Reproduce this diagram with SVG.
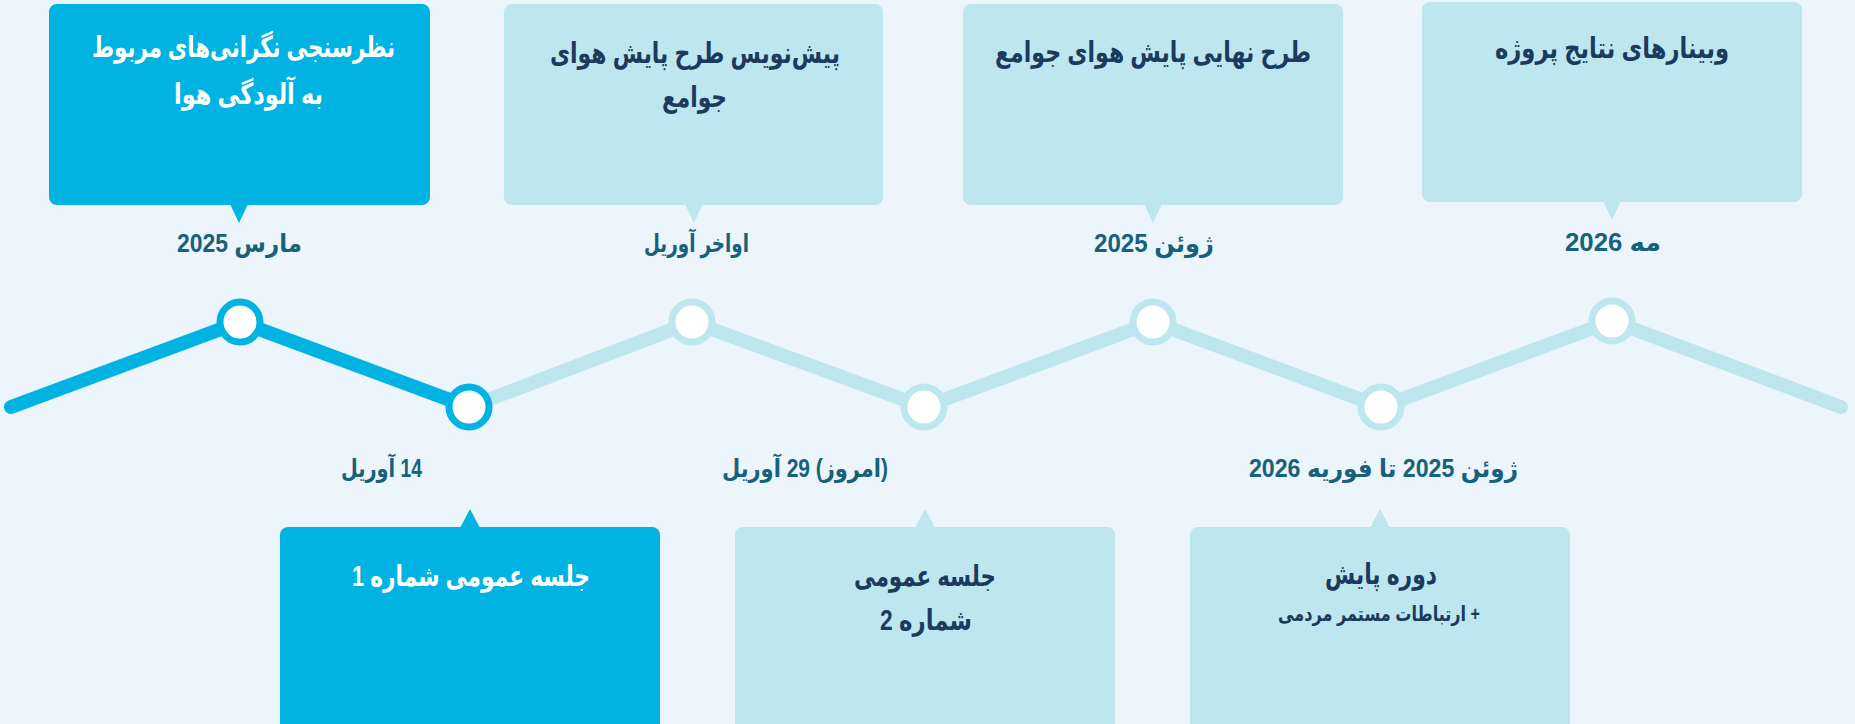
<svg xmlns="http://www.w3.org/2000/svg" width="1855" height="724" viewBox="0 0 1855 724">
<style>
text{font-family:"Liberation Sans","DejaVu Sans",sans-serif;font-weight:bold;text-anchor:middle;direction:rtl}
.bg{fill:#EBF5FB}
.act{fill:#00B3E3}
.pas{fill:#BEE6EF}
.ttl{font-size:29px;fill:#1B3A5C}
.ttlw{font-size:29px;fill:#FFFFFF}
.sub{font-size:21px;fill:#1B3A5C}
.date{font-size:25px;fill:#17617A}
.lnA{fill:none;stroke:#00B3E3;stroke-width:14;stroke-linecap:round;stroke-linejoin:round}
.lnP{fill:none;stroke:#BEE6EF;stroke-width:14;stroke-linecap:round;stroke-linejoin:round}
.dotA{fill:#FFFFFF;stroke:#00B3E3;stroke-width:7}
.dotP{fill:#FFFFFF;stroke:#BEE6EF;stroke-width:7}
</style>
<rect class="bg" x="0" y="0" width="1855" height="724"/>
<g id="connectors">
<path class="lnP" d="M469,407 L692,322 L924,407 L1153,322 L1381,407 L1612,321 L1841,407"/>
<path class="lnA" d="M11,407 L240,322 L469,407"/>
</g>
<g id="dots">
<circle class="dotA" cx="240" cy="322" r="20"/>
<circle class="dotA" cx="469" cy="407" r="20"/>
<circle class="dotP" cx="692" cy="322" r="20"/>
<circle class="dotP" cx="924" cy="407" r="20"/>
<circle class="dotP" cx="1153" cy="322" r="20"/>
<circle class="dotP" cx="1381" cy="407" r="20"/>
<circle class="dotP" cx="1612" cy="321" r="20"/>
</g>
<g id="node-survey">
<rect class="act" x="49" y="4" width="381" height="201" rx="8"/>
<polygon class="act" points="230,204 239,223 248,204"/>
<text class="ttlw" x="243.5" y="57" textLength="303" lengthAdjust="spacingAndGlyphs">نظرسنجی نگرانی‌های مربوط</text>
<text class="ttlw" x="248.5" y="104" textLength="149" lengthAdjust="spacingAndGlyphs">به آلودگی هوا</text>
<text class="date" x="239.5" y="252" textLength="125" lengthAdjust="spacingAndGlyphs">مارس 2025</text>
</g>
<g id="node-draft">
<rect class="pas" x="504" y="4" width="379" height="201" rx="8"/>
<polygon class="pas" points="685,204 694,223 703,204"/>
<text class="ttl" x="695" y="63" textLength="290" lengthAdjust="spacingAndGlyphs">پیش‌نویس طرح پایش هوای</text>
<text class="ttl" x="694.5" y="107" textLength="65" lengthAdjust="spacingAndGlyphs">جوامع</text>
<text class="date" x="696.5" y="252" textLength="105" lengthAdjust="spacingAndGlyphs">اواخر آوریل</text>
</g>
<g id="node-final">
<rect class="pas" x="963" y="4" width="380" height="201" rx="8"/>
<polygon class="pas" points="1144,204 1153,223 1162,204"/>
<text class="ttl" x="1153" y="62" textLength="316" lengthAdjust="spacingAndGlyphs">طرح نهایی پایش هوای جوامع</text>
<text class="date" x="1154" y="252" textLength="120" lengthAdjust="spacingAndGlyphs">ژوئن 2025</text>
</g>
<g id="node-webinar">
<rect class="pas" x="1422" y="2" width="380" height="200" rx="8"/>
<polygon class="pas" points="1603,201 1612,220 1621,201"/>
<text class="ttl" x="1612" y="58" textLength="234" lengthAdjust="spacingAndGlyphs">وبینارهای نتایج پروژه</text>
<text class="date" x="1613" y="251" textLength="96" lengthAdjust="spacingAndGlyphs">مه 2026</text>
</g>
<g id="node-meeting1">
<polygon class="act" points="460,528 470,509 480,528"/>
<rect class="act" x="280" y="527" width="380" height="210" rx="8"/>
<text class="ttlw" x="471" y="586" textLength="238" lengthAdjust="spacingAndGlyphs">جلسه عمومی شماره 1</text>
<text class="date" x="381.5" y="477" textLength="81" lengthAdjust="spacingAndGlyphs">14 آوریل</text>
</g>
<g id="node-meeting2">
<polygon class="pas" points="915,528 925,509 935,528"/>
<rect class="pas" x="735" y="527" width="380" height="210" rx="8"/>
<text class="ttl" x="925" y="586" textLength="142" lengthAdjust="spacingAndGlyphs">جلسه عمومی</text>
<text class="ttl" x="926" y="630" textLength="92" lengthAdjust="spacingAndGlyphs">شماره 2</text>
<text class="date" x="805" y="477" textLength="166" lengthAdjust="spacingAndGlyphs">(امروز) 29 آوریل</text>
</g>
<g id="node-monitoring">
<polygon class="pas" points="1370,528 1380,509 1390,528"/>
<rect class="pas" x="1190" y="527" width="380" height="210" rx="8"/>
<text class="ttl" x="1381" y="584" textLength="112" lengthAdjust="spacingAndGlyphs">دوره پایش</text>
<text class="sub" x="1379" y="621" textLength="202" lengthAdjust="spacingAndGlyphs">+ ارتباطات مستمر مردمی</text>
<text class="date" x="1383.5" y="477" textLength="269" lengthAdjust="spacingAndGlyphs">ژوئن 2025 تا فوریه 2026</text>
</g>
</svg>
